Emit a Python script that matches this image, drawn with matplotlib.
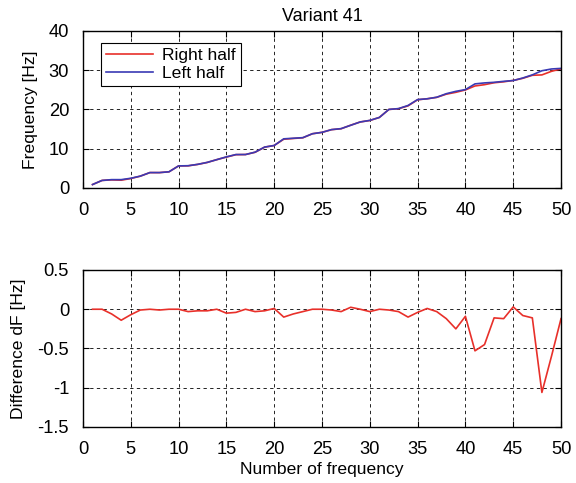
import matplotlib
matplotlib.use("Agg")
import matplotlib.pyplot as plt
import numpy as np

plt.rcParams['font.family'] = ['Liberation Sans', 'DejaVu Sans']
plt.rcParams['font.size'] = 12.6

n = np.arange(1, 51)
left_half = [0.85, 1.9, 2.1, 2.1, 2.45, 3.0, 3.9, 3.9, 4.1, 5.6,
             5.65, 6.0, 6.5, 7.2, 7.9, 8.5, 8.5, 9.1, 10.4, 10.8,
             12.5, 12.65, 12.8, 13.8, 14.15, 14.85, 15.1, 15.95, 16.8, 17.2,
             17.95, 20.0, 20.2, 21.0, 22.5, 22.7, 23.1, 24.0, 24.6, 25.05,
             26.5, 26.75, 26.9, 27.15, 27.35, 28.0, 28.8, 29.85, 30.3, 30.45]
diff = [0.0, 0.0, -0.06, -0.14, -0.07, -0.01, 0.0, -0.01, 0.0, 0.0,
        -0.03, -0.02, -0.02, 0.0, -0.05, -0.04, 0.0, -0.03, -0.02, 0.01,
        -0.1, -0.06, -0.03, 0.0, 0.0, -0.01, -0.03, 0.025, 0.0, -0.03,
        0.0, -0.01, -0.03, -0.1, -0.04, 0.01, -0.03, -0.12, -0.25, -0.09,
        -0.53, -0.45, -0.11, -0.12, 0.03, -0.08, -0.11, -1.06, -0.6, -0.12]
right_half = np.array(left_half) + np.array(diff)

red = '#e8302a'
blue = '#3a3ab4'

fig = plt.figure(figsize=(5.76, 4.83), dpi=100)
ax1 = fig.add_axes([0.144, 0.611, 0.830, 0.325])
ax2 = fig.add_axes([0.144, 0.116, 0.830, 0.325])

ax1.plot(n, right_half, color=red, lw=1.2, label='Right half')
ax1.plot(n, left_half, color=blue, lw=1.2, label='Left half')
ax1.set_xlim(0, 50)
ax1.set_ylim(0, 40)
ax1.set_yticks([0, 10, 20, 30, 40])
ax1.set_ylabel('Frequency [Hz]', labelpad=8)
ax1.set_title('Variant 41', fontsize=13, pad=7)
leg = ax1.legend(loc='upper left', bbox_to_anchor=(0.037, 0.925), fancybox=False,
                 edgecolor='black', framealpha=1, handlelength=2.7,
                 borderpad=0.3, labelspacing=0.15, handletextpad=0.5, borderaxespad=0)
leg.get_frame().set_linewidth(0.8)

ax2.plot(n, diff, color=red, lw=1.2)
ax2.set_xlim(0, 50)
ax2.set_ylim(-1.5, 0.5)
ax2.set_yticks([-1.5, -1, -0.5, 0, 0.5])
ax2.set_yticklabels(['-1.5', '-1', '-0.5', '0', '0.5'])
ax2.set_ylabel('Difference dF [Hz]', labelpad=8)
ax2.set_xlabel('Number of frequency', labelpad=3)

for ax in (ax1, ax2):
    ax.set_xticks(range(0, 51, 5))
    ax.grid(True, color='black', linestyle=(0, (4, 4)), linewidth=0.6)
    ax.tick_params(direction='in', top=True, right=True, length=4, width=0.8,
                   labelsize=13.2)
    ax.tick_params(axis='y', pad=10)
    ax.tick_params(axis='x', pad=10)
    for s in ax.spines.values():
        s.set_linewidth(1.0)

fig.savefig('out.png', dpi=100)
